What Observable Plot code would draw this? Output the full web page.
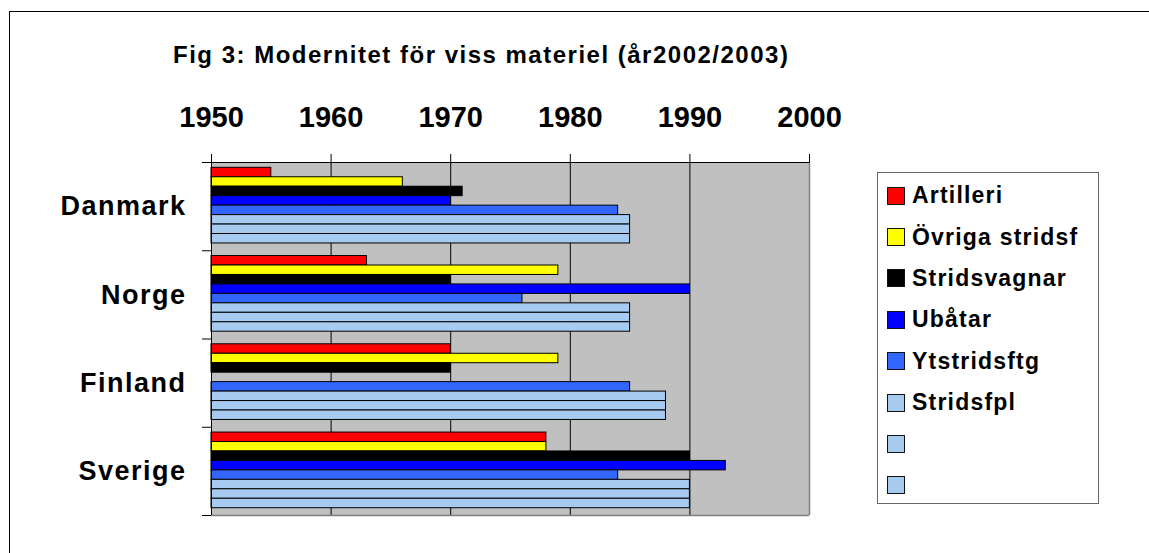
<!DOCTYPE html>
<html>
<head>
<meta charset="utf-8">
<script src="https://cdn.jsdelivr.net/npm/d3@7"></script>
<script src="https://cdn.jsdelivr.net/npm/@observablehq/plot@0.6"></script>
<style>
  html, body { margin: 0; padding: 0; background: #fff; }
  #wrap { position: relative; width: 1149px; height: 553px; overflow: hidden;
          font-family: "Liberation Sans", Arial, sans-serif; color: #000; }
  #wrap svg { position: absolute; left: 0; top: 0; }
  #border { position: absolute; left: 9px; top: 11px; width: 1300px; height: 700px;
            border-left: 1px solid #000; border-top: 1px solid #000; }
  #title { position: absolute; left: 173px; top: 43px; font-weight: bold; font-size: 24px;
           line-height: 24px; letter-spacing: 1.5px; white-space: nowrap; }
  #legend { position: absolute; left: 877px; top: 172px; width: 222px; height: 332px;
            box-sizing: border-box; border: 1px solid #666; background: #fff; padding-top: 2px; }
  .item { display: flex; align-items: center; height: 41.4px; padding-left: 9px; }
  .sw { width: 18px; height: 18px; box-sizing: border-box; border: 1.5px solid #111; margin-right: 7px; flex: none; }
  .lab { font-weight: bold; font-size: 23px; line-height: 23px; letter-spacing: 1.2px; white-space: nowrap; }
  g[aria-label="x-axis tick label"] text { letter-spacing: 0px; }
  g[aria-label="y-axis tick label"] text { letter-spacing: 1.5px; }
</style>
</head>
<body>
<div id="wrap">
  <div id="border"></div>
</div>
<script>
// ---- data ----
const countries = ["Danmark", "Norge", "Finland", "Sverige"];
const seriesNames = ["Artilleri", "Övriga stridsf", "Stridsvagnar", "Ubåtar", "Ytstridsftg", "Stridsfpl", "", ""];
const artilleri     = [1955, 1963, 1970, 1978];
const ovrigaStridsf = [1966, 1979, 1979, 1978];
const stridsvagnar  = [1971, 1970, 1970, 1990];
const ubatar        = [1970, 1990, null, 1993];
const ytstridsftg   = [1984, 1976, 1985, 1984];
const stridsfpl     = [1985, 1985, 1988, 1990];
const stridsfpl2    = [1985, 1985, 1988, 1990];
const stridsfpl3    = [1985, 1985, 1988, 1990];
const yearTicks = [1950, 1960, 1970, 1980, 1990, 2000];

// ---- styles ----
const seriesColors = ["#FF0000", "#FFFF00", "#000000", "#0000FF", "#3366FF", "#A6CAF0", "#A6CAF0", "#A6CAF0"];
const padTop = 0.56, padBottom = 0.77;             // empty slot units in each group
const G = padTop + seriesNames.length + padBottom; // group size in slot units

const seriesValues = [artilleri, ovrigaStridsf, stridsvagnar, ubatar, ytstridsftg, stridsfpl, stridsfpl2, stridsfpl3];
const seriesKeys = seriesNames.map((_, i) => "s" + i);

const rows = [];
countries.forEach((c, ci) => {
  seriesValues.forEach((vals, si) => {
    const v = vals[ci];
    if (v == null) return;
    const y1 = ci * G + padTop + si;
    rows.push({country: c, key: seriesKeys[si], start: yearTicks[0], value: v, y1, y2: y1 + 1});
  });
});

const boundaries = countries.map((_, i) => i * G).concat([countries.length * G]);
const centers = countries.map((_, i) => i * G + G / 2);

const W = 1149, H = 553;
const chart = Plot.plot({
  width: W, height: H,
  marginLeft: 211, marginRight: W - 809, marginTop: 162, marginBottom: H - 515,
  style: {fontFamily: "'Liberation Sans', Arial, sans-serif", background: "transparent", color: "#000"},
  x: {domain: [yearTicks[0], yearTicks[yearTicks.length - 1]], axis: null},
  y: {domain: [0, countries.length * G], reverse: true, axis: null},
  color: {type: "ordinal", domain: seriesKeys, range: seriesColors},
  marks: [
    Plot.frame({fill: "#C0C0C0", stroke: null}),
    Plot.ruleX(yearTicks.slice(1, -1), {stroke: "#000", strokeWidth: 1}),
    Plot.ruleX([yearTicks[yearTicks.length - 1]], {stroke: "#808080", strokeWidth: 1.5}),
    Plot.ruleY([countries.length * G], {stroke: "#808080", strokeWidth: 1.5}),
    Plot.rect(rows, {x1: "start", x2: "value", y1: "y1", y2: "y2",
                     fill: "key", stroke: "#000", strokeWidth: 1}),
    Plot.ruleX([yearTicks[0]], {stroke: "#000", strokeWidth: 1}),
    Plot.ruleY([0], {stroke: "#000", strokeWidth: 1}),
    Plot.axisX({anchor: "top", ticks: yearTicks, tickSize: 9, tickPadding: 27,
                tickFormat: d => String(d), fontSize: 29, fontWeight: "bold", label: null,
                stroke: "#000"}),
    Plot.axisY({anchor: "left", ticks: boundaries, tickSize: 9, tickFormat: () => "", label: null, stroke: "#000"}),
    Plot.axisY({anchor: "left", ticks: centers, tickSize: 0, tickPadding: 25,
                tickFormat: (d) => countries[centers.indexOf(d)], fontSize: 27, fontWeight: "bold", label: null})
  ]
});

const wrap = document.getElementById("wrap");
wrap.appendChild(chart);

const title = document.createElement("div");
title.id = "title";
title.textContent = "Fig 3: Modernitet för viss materiel (år2002/2003)";
wrap.appendChild(title);

const legend = document.createElement("div");
legend.id = "legend";
seriesNames.forEach((name, i) => {
  const item = document.createElement("div");
  item.className = "item";
  const sw = document.createElement("span");
  sw.className = "sw";
  sw.style.background = seriesColors[i];
  const lab = document.createElement("span");
  lab.className = "lab";
  lab.textContent = name;
  item.appendChild(sw);
  item.appendChild(lab);
  legend.appendChild(item);
});
wrap.appendChild(legend);
</script>
</body>
</html>
